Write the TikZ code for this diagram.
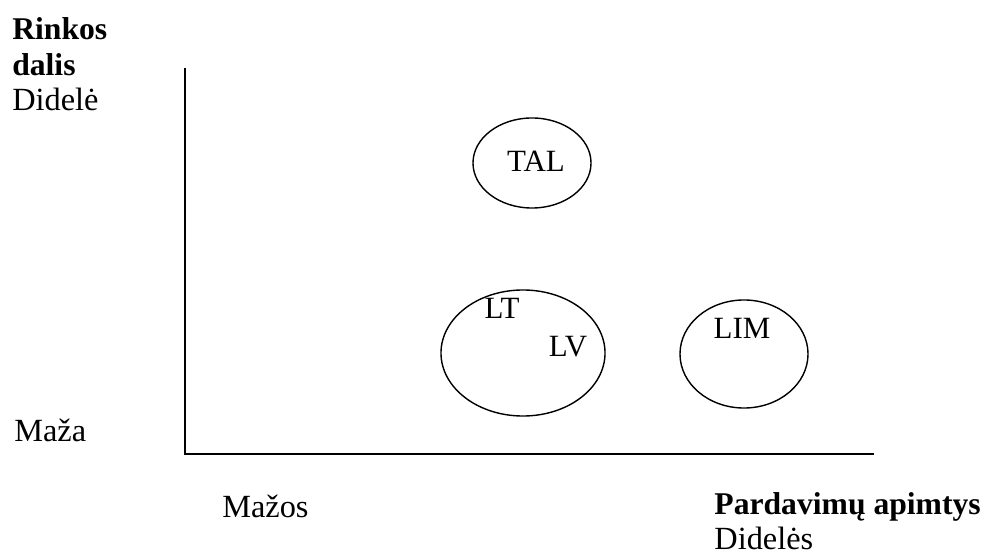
\documentclass[tikz,border=0pt]{standalone}
\usepackage{fontspec}
\setmainfont{Liberation Serif}
\usetikzlibrary{shapes.geometric}

\tikzset{
  axis/.style={line width=1.4pt},
  share/.style={draw, ellipse, line width=1pt, inner sep=0pt},
  lbl/.style={inner sep=0pt, font=\fontsize{22}{26}\selectfont},
  caption/.style={inner sep=0pt, anchor=base west, font=\fontsize{23}{28}\selectfont},
  title/.style={inner sep=0pt, anchor=base west, font=\fontsize{22.5}{27}\selectfont\bfseries},
}

\begin{document}
\begin{tikzpicture}[x=0.025cm, y=-0.025cm]

                \useasboundingbox (0,0) rectangle (984,556);
                % axes
                \coordinate (ytop) at (185,68);
                \coordinate (origin) at (185,454);
                \coordinate (xend) at (874,454);
                \draw[axis] (ytop) -- (origin) -- (xend);

                % axis captions
                \node[title] (rinkos) at (12,40) {Rinkos};
                \node[title] (dalis) at (12,76) {dalis};
                \node[caption] (didele) at (12,111) {Didelė};
                \node[caption] (maza) at (14,441) {Maža};
                \node[caption] (mazos) at (222,517) {Mažos};
                \node[title, anchor=base east] (apimtys) at (981,514) {Pardavimų apimtys};
                \node[caption] (dideles) at (apimtys.base west |- 0,549) {Didelės};

                % market groups
                \node[share, minimum width=2.95cm, minimum height=2.25cm] (tal) at (532,163) {};
                \node[lbl] (taltext) at (536,161) {TAL};
                \node[share, minimum width=4.1cm, minimum height=3.15cm] (baltic) at (523,353) {};
                \node[lbl] (lt) at (502,308) {LT};
                \node[lbl] (lv) at (568,347) {LV};
                \node[share, minimum width=3.2cm, minimum height=2.7cm] (lim) at (744,354) {};
                \node[lbl] (limtext) at (742,328) {LIM};
            \end{tikzpicture}
\end{document}
